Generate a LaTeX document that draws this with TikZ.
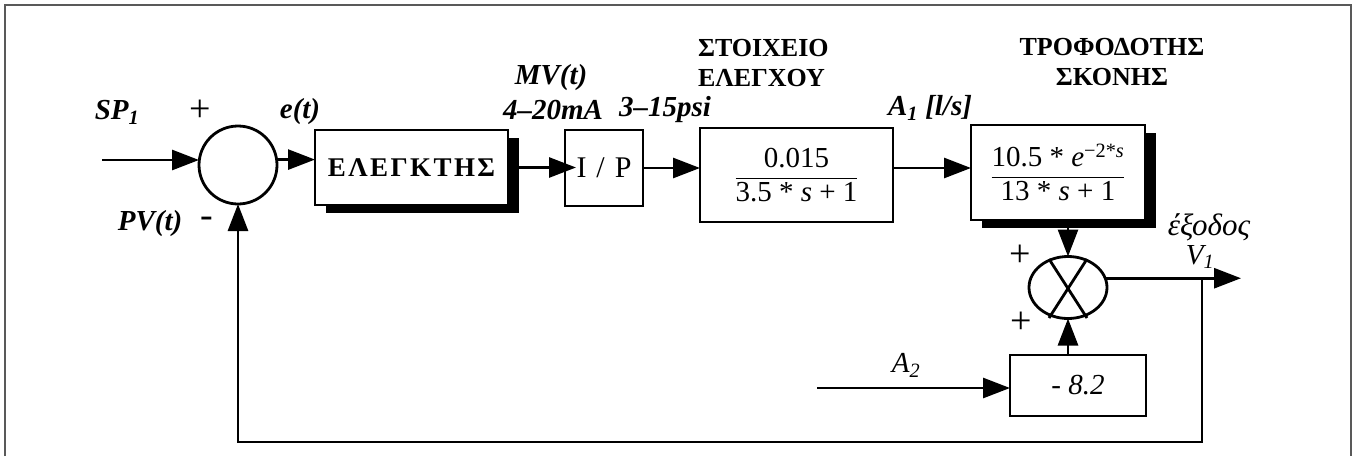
\documentclass[tikz,border=0pt]{standalone}
\usepackage{fontspec}
\setmainfont{Liberation Serif}
\usetikzlibrary{arrows.meta,shapes.geometric,shadows}
\begin{document}
\begin{tikzpicture}[x=1pt,y=-1pt,
  every node/.style={font=\fontsize{22}{30}\selectfont, inner sep=0pt, outer sep=0pt},
  box/.style={draw, line width=2.8pt, fill=white, rectangle},
  shadowed/.style={drop shadow={shadow xshift=11pt, shadow yshift=-8pt, fill=black, opacity=1}},
  arr/.style={line width=2.8pt, -{Triangle[length=27pt,width=20pt]}},
  ln/.style={line width=2.8pt},
  lbl/.style={font=\fontsize{29}{30}\selectfont\bfseries\itshape},
  ilbl/.style={font=\fontsize{29}{30}\selectfont\itshape},
  gk/.style={font=\fontsize{26}{30}\selectfont\bfseries},
  fr/.style={font=\fontsize{29}{30}\selectfont},
  sgn/.style={font=\fontsize{38}{30}\selectfont},
  frame/.style={draw=black!65, line width=1.5pt}]
\useasboundingbox (0,0) rectangle (1355,456);
\draw[frame] (5,456) -- (5,5) -- (1351,5) -- (1351,456);

% blocks
\node[circle, draw, line width=2.8pt, minimum size=78pt] (sum) at (238,165) {};
\node[box, shadowed, minimum width=193pt, minimum height=75pt, font=\fontsize{27}{30}\selectfont\bfseries] (ctrl) at (411.5,167.5) {\addfontfeatures{LetterSpace=9}ΕΛΕΓΚΤΗΣ};
\node[box, minimum width=78pt, minimum height=76pt, font=\fontsize{30}{30}\selectfont] (ip) at (604,168) {I\hspace{10pt}/\hspace{10pt}P};
\node[box, fr, minimum width=193pt, minimum height=94pt] (blk3) at (796.5,175)
  {$\displaystyle\frac{\mbox{0.015}}{\mbox{3.5 * \textit{s} + 1}}$};
\node[box, fr, shadowed, minimum width=174pt, minimum height=95pt] (blk4) at (1058,172.5)
  {$\displaystyle\frac{\mbox{10.5 * \textit{e}\textsuperscript{−2*\textit{s}}}}{\mbox{13 * \textit{s} + 1}}$};
\node[ellipse, draw, line width=2.8pt, minimum width=78pt, minimum height=62pt] (mult) at (1068,287.5) {};
\draw[ln] (1049,259) -- (1087,318) (1087,259) -- (1049,318);
\node[box, minimum width=136pt, minimum height=61pt, ilbl] (gain) at (1078,385.5) {- 8.2};

% free ends
\coordinate (spin) at (102,160);
\coordinate (a2in) at (817,388);
\coordinate (outend) at (1241,278);
\coordinate (fb) at (1202,442);

% connectors
\draw[arr] (spin) -- (spin -| sum.west);
\draw[arr] (sum.8) -- (sum.8 -| ctrl.west);
\draw[arr] ([xshift=11pt]ctrl.east) -- ([xshift=11pt]ctrl.east -| ip.west);
\draw[arr] (ip.east) -- (ip.east -| blk3.west);
\draw[arr] (ip.east -| blk3.east) -- (ip.east -| blk4.west);
\draw[arr] ([yshift=-8pt]blk4.south -| mult.north) -- (mult.north);
\draw[arr] (gain.north -| mult.south) -- (mult.south);
\draw[arr] (a2in) -- (a2in -| gain.west);
\draw[arr] (mult.14) -- (mult.14 -| outend);
\draw[arr] (mult.14 -| fb) -- (fb) -- (fb -| sum.south) -- (sum.south);

% labels
\node[lbl] (lsp) at (117,112) {SP\textsubscript{1}};
\node[sgn] (lp1) at (200,111) {+};
\node[lbl] (le) at (300,112) {e(t)};
\node[lbl] (lpv) at (150,224) {PV(t)};
\node[sgn] (lm1) at (207,222) {-};
\node[lbl] (lmv) at (551,78) {MV(t)};
\node[lbl] (lma) at (553,110) {4–20mA};
\node[lbl] (lpsi) at (665,110) {3–15psi};
\node[gk, anchor=west, align=left] (lst) at (698,63) {ΣΤΟΙΧΕΙΟ\\ΕΛΕΓΧΟΥ};
\node[gk, align=center] (ltr) at (1112,62) {ΤΡΟΦΟΔΟΤΗΣ\\ΣΚΟΝΗΣ};
\node[lbl] (la1) at (930,108) {A\textsubscript{1} [l/s]};
\node[ilbl, font=\fontsize{31}{30}\selectfont\itshape] (lex) at (1209,227) {έξοδος};
\node[ilbl] (lv1) at (1200,257) {V\textsubscript{1}};
\node[ilbl] (la2) at (906,365) {A\textsubscript{2}};
\node[sgn] (lp2) at (1020,256) {+};
\node[sgn] (lp3) at (1021,323) {+};
\end{tikzpicture}
\end{document}
